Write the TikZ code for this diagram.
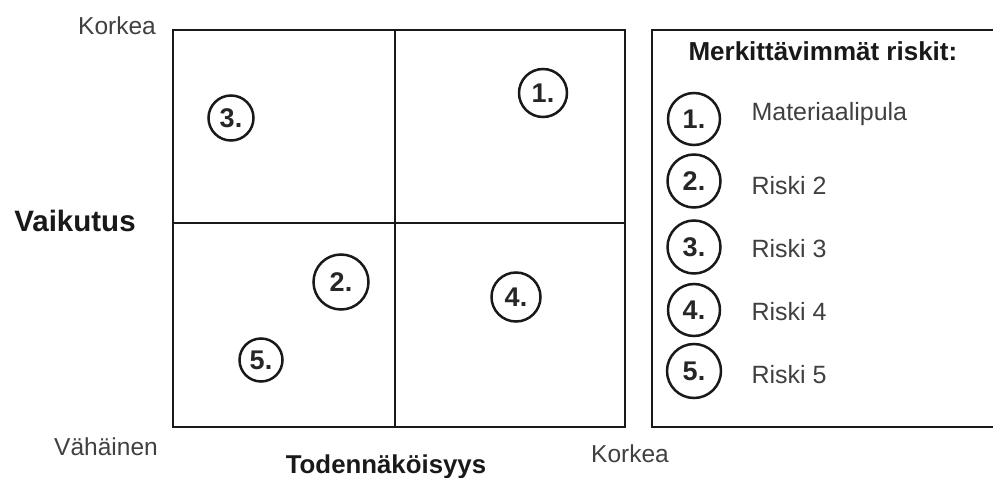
\documentclass[tikz,border=0pt]{standalone}
\usepackage{fontspec}
\setmainfont{Liberation Sans}
\begin{document}
\begin{tikzpicture}[x=1pt,y=-1pt,
  frame/.style={line width=2.7pt,draw=black!90},
  riskc/.style={circle,draw=black!90,line width=2.5pt,inner sep=0pt,
    font=\fontsize{27}{27}\selectfont\bfseries,text=black!85},
  axislbl/.style={font=\fontsize{24.5}{24.5}\selectfont,text=black!75,anchor=base},
  axistitle/.style={font=\fontsize{29.5}{29.5}\selectfont\bfseries,text=black!90,anchor=base},
  itemlbl/.style={font=\fontsize{25}{25}\selectfont,text=black!75,anchor=base west}]
\useasboundingbox (0,0) rectangle (993,478);
\fill[white] (0,0) rectangle (993,478);

% risk matrix
\draw[frame] (173,30) rectangle (625,427);
\draw[frame] (395,30) -- (395,427);
\draw[frame] (173,223) -- (625,223);

% legend box (runs past the right edge)
\begin{scope}
\clip (0,0) rectangle (993,478);
\draw[frame] (652,30) rectangle (1010,427);
\end{scope}

% axis labels
\node[axislbl] (ytop) at (117,35) {Korkea};
\node[axistitle] (ytitle) at (75,232) {Vaikutus};
\node[axislbl] (origin) at (106,455) {Vähäinen};
\node[axistitle,font=\fontsize{25.8}{25.8}\selectfont\bfseries] (xtitle) at (386,473) {Todennäköisyys};
\node[axislbl] (xright) at (630,462) {Korkea};

% risks placed in the matrix
\node[riskc,minimum size=48pt] (r1) at (543,93) {1.};
\node[riskc,minimum size=45pt] (r3) at (231,118) {3.};
\node[riskc,minimum size=55pt] (r2) at (341,282) {2.};
\node[riskc,minimum size=49pt] (r4) at (516,297) {4.};
\node[riskc,minimum size=43pt] (r5) at (261,360) {5.};

% legend
\node[font=\fontsize{26}{26}\selectfont\bfseries,text=black!90,anchor=base west] (ltitle) at (685,61) {Merkittävimmät riskit:};
\node[riskc,minimum size=52pt] (l1) at (694,119) {1.};
\node[riskc,minimum size=53pt] (l2) at (694,181) {2.};
\node[riskc,minimum size=53pt] (l3) at (694,247) {3.};
\node[riskc,minimum size=52pt] (l4) at (694,310) {4.};
\node[riskc,minimum size=54pt] (l5) at (694,371) {5.};
\node[itemlbl] (t1) at (748,121) {Materiaalipula};
\node[itemlbl] (t2) at (748,195) {Riski 2};
\node[itemlbl] (t3) at (748,258) {Riski 3};
\node[itemlbl] (t4) at (748,320) {Riski 4};
\node[itemlbl] (t5) at (748,383) {Riski 5};
\end{tikzpicture}
\end{document}
